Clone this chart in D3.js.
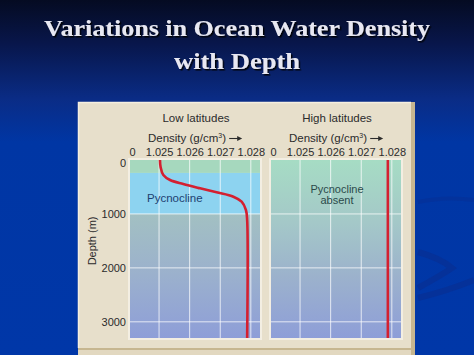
<!DOCTYPE html>
<html>
<head>
<meta charset="utf-8">
<script src="https://cdn.jsdelivr.net/npm/d3@7"></script>
<style>
  html, body { margin: 0; padding: 0; background: #0036a6; }
  svg { display: block; }
</style>
</head>
<body>
<svg id="chart" width="474" height="355"></svg>
<script>
// ---------------- data ----------------
const titleLines = ["Variations in Ocean Water Density", "with Depth"];
const panelTitles = ["Low latitudes", "High latitudes"];
const densityTicks = [1.025, 1.026, 1.027, 1.028];
const depthTicks = [0, 1000, 2000, 3000];

// low latitudes density profile [density, depth]
const lowLatProfile = [
    [1.02503, 0], [1.02505, 130], [1.02514, 278], [1.02536, 371],
    [1.02579, 445], [1.02634, 525], [1.02688, 599], [1.02743, 680],
    [1.02770, 773], [1.02784, 927], [1.02788, 1112], [1.02788, 3300]
];
// high latitudes: no pycnocline, near constant density
const highLatProfile = [[1.02787, 0], [1.02787, 3300]];

// water layers in low latitudes [name, top depth, bottom depth]
const lowLatLayers = [["mixed", 0, 240], ["pycnocline", 240, 1000]];

const svg = d3.select("#chart"),
    width = +svg.attr("width"),
    height = +svg.attr("height");

const defs = svg.append("defs");

// slide background
const bg = defs.append("linearGradient").attr("id", "bg")
    .attr("x1", 0).attr("y1", 0).attr("x2", 0).attr("y2", 1);
bg.append("stop").attr("offset", "0%").attr("stop-color", "#050b22");
bg.append("stop").attr("offset", "12%").attr("stop-color", "#08164a");
bg.append("stop").attr("offset", "28%").attr("stop-color", "#0a2c86");
bg.append("stop").attr("offset", "40%").attr("stop-color", "#0036a4");
bg.append("stop").attr("offset", "100%").attr("stop-color", "#0037a8");

svg.append("rect").attr("width", width).attr("height", height).attr("fill", "url(#bg)");

// faint swoosh on the right
svg.append("path")
    .attr("d", "M418,252 Q440,258 452,268 Q440,276 418,288")
    .attr("fill", "none").attr("stroke", "#0a2b8c").attr("stroke-width", 6).attr("opacity", 0.5);
svg.append("path")
    .attr("d", "M418,298 Q450,290 474,280")
    .attr("fill", "none").attr("stroke", "#0a2b8c").attr("stroke-width", 6).attr("opacity", 0.5);
svg.append("path")
    .attr("d", "M418,202 Q445,196 474,200")
    .attr("fill", "none").attr("stroke", "#0a2b8c").attr("stroke-width", 4).attr("opacity", 0.35);

// title
const shadow = defs.append("filter").attr("id", "shadow")
    .attr("x", "-5%").attr("y", "-20%").attr("width", "110%").attr("height", "140%");
shadow.append("feDropShadow").attr("dx", 1.5).attr("dy", 1.5).attr("stdDeviation", 0.6)
    .attr("flood-color", "#000").attr("flood-opacity", 0.9);

const titleG = svg.append("g").attr("filter", "url(#shadow)");
titleLines.forEach((t, i) => {
    titleG.append("text")
        .attr("x", width / 2)
        .attr("y", 36 + i * 33)
        .attr("text-anchor", "middle")
        .attr("textLength", i === 0 ? 386 : 126)
        .attr("lengthAdjust", "spacingAndGlyphs")
        .style("font-family", "'Liberation Serif', 'Times New Roman', serif")
        .style("font-weight", "bold")
        .style("font-size", "24px")
        .style("fill", "#e8e8f2")
        .text(t);
});

// figure panel
const panel = { left: 78, top: 102, right: 415, bottom: 360 };
svg.append("rect")
    .attr("x", panel.left).attr("y", panel.top)
    .attr("width", panel.right - panel.left).attr("height", panel.bottom - panel.top)
    .attr("fill", "#c6b690");
svg.append("rect")
    .attr("x", panel.left).attr("y", panel.top)
    .attr("width", panel.right - panel.left - 4).attr("height", 246)
    .attr("fill", "#e7dfcb");
svg.append("path")
    .attr("d", `M${panel.left + 0.5},${panel.top + 246} V${panel.top + 0.5} H${panel.right - 4}`)
    .attr("fill", "none").attr("stroke", "#f5efe0").attr("stroke-width", 1.5);
svg.append("rect")
    .attr("x", panel.left).attr("y", panel.top + 248)
    .attr("width", panel.right - panel.left - 4).attr("height", 10)
    .attr("fill", "#e2d8c0");

// plot areas
const plotTop = 160, plotBottom = 338;
const plots = [
    { x0: 130, x1: 260, title: panelTitles[0], profile: lowLatProfile, id: "low" },
    { x0: 271, x1: 401, title: panelTitles[1], profile: highLatProfile, id: "high" }
];

const y = d3.scaleLinear().domain([0, 3300]).range([plotTop, plotBottom]);

// gradients for water
const deep = defs.append("linearGradient").attr("id", "deep")
    .attr("gradientUnits", "userSpaceOnUse")
    .attr("x1", 0).attr("y1", y(1000)).attr("x2", 0).attr("y2", plotBottom);
deep.append("stop").attr("offset", "0%").attr("stop-color", "#a2c0c2");
deep.append("stop").attr("offset", "45%").attr("stop-color", "#9cb2cc");
deep.append("stop").attr("offset", "100%").attr("stop-color", "#8e9ed8");

const full = defs.append("linearGradient").attr("id", "full")
    .attr("gradientUnits", "userSpaceOnUse")
    .attr("x1", 0).attr("y1", plotTop).attr("x2", 0).attr("y2", plotBottom);
full.append("stop").attr("offset", "0%").attr("stop-color", "#a6dcc4");
full.append("stop").attr("offset", "35%").attr("stop-color", "#a4c8c8");
full.append("stop").attr("offset", "65%").attr("stop-color", "#9cb2cc");
full.append("stop").attr("offset", "100%").attr("stop-color", "#8e9ed8");

const layerColor = { mixed: "#a6d8be", pycnocline: "#8dd3f0" };
const textFont = "'Liberation Sans', Arial, Helvetica, sans-serif";

plots.forEach(p => {
    const x = d3.scaleLinear().domain([1.02405, 1.0283]).range([p.x0, p.x1]);
    const g = svg.append("g");

    // frame
    g.append("rect")
        .attr("x", p.x0 - 2).attr("y", plotTop - 2)
        .attr("width", p.x1 - p.x0 + 4).attr("height", plotBottom - plotTop + 4)
        .attr("fill", "#f3eee2");

    // water
    if (p.id === "low") {
        g.append("rect")
            .attr("x", p.x0).attr("y", y(1000))
            .attr("width", p.x1 - p.x0).attr("height", plotBottom - y(1000))
            .attr("fill", "url(#deep)");
        g.selectAll("rect.layer")
            .data(lowLatLayers)
            .join("rect")
            .attr("class", "layer")
            .attr("x", p.x0)
            .attr("y", d => y(d[1]))
            .attr("width", p.x1 - p.x0)
            .attr("height", d => y(d[2]) - y(d[1]))
            .attr("fill", d => layerColor[d[0]]);
    } else {
        g.append("rect")
            .attr("x", p.x0).attr("y", plotTop)
            .attr("width", p.x1 - p.x0).attr("height", plotBottom - plotTop)
            .attr("fill", "url(#full)");
    }

    // grid
    g.selectAll("line.vgrid")
        .data(densityTicks)
        .join("line")
        .attr("x1", d => x(d)).attr("x2", d => x(d))
        .attr("y1", plotTop).attr("y2", plotBottom)
        .attr("stroke", "#ffffff").attr("stroke-opacity", 0.75).attr("stroke-width", 1);
    g.selectAll("line.hgrid")
        .data(depthTicks.slice(1))
        .join("line")
        .attr("x1", p.x0).attr("x2", p.x1)
        .attr("y1", d => y(d)).attr("y2", d => y(d))
        .attr("stroke", "#ffffff").attr("stroke-opacity", 0.75).attr("stroke-width", 1);

    // density curve
    const line = d3.line()
        .x(d => x(d[0]))
        .y(d => y(d[1]))
        .curve(d3.curveCatmullRom.alpha(0.5));
    g.append("path")
        .datum(p.profile)
        .attr("d", line)
        .attr("fill", "none")
        .attr("stroke", "#d42030")
        .attr("stroke-width", 2.6);

    // top axis
    const xAxis = g.append("g")
        .attr("transform", `translate(0,${plotTop - 4})`)
        .call(d3.axisTop(x)
            .tickValues([1.02405].concat(densityTicks))
            .tickSize(0)
            .tickPadding(0)
            .tickFormat(d => d < 1.025 ? "0" : d3.format(".3f")(d)));
    xAxis.select(".domain").remove();
    xAxis.selectAll("text")
        .style("font-family", textFont)
        .style("font-size", "11px")
        .style("fill", "#2b2b2b");
    xAxis.selectAll(".tick").filter(d => d < 1.025).select("text").attr("dx", 2);

    const cx = (p.x0 + p.x1) / 2 + 1;
    g.append("text")
        .attr("x", cx).attr("y", 122)
        .attr("text-anchor", "middle")
        .style("font-family", textFont).style("font-size", "11.5px").style("fill", "#2b2b2b")
        .text(p.title);

    // density label with arrow
    const lab = g.append("text")
        .attr("x", cx - 9).attr("y", 142)
        .attr("text-anchor", "middle")
        .style("font-family", textFont).style("font-size", "11.5px").style("fill", "#2b2b2b")
        .html("Density (g/cm<tspan dy='-4' font-size='7px'>3</tspan><tspan dy='4'>)</tspan>");
    const bb = lab.node().getBBox();
    const ax0 = bb.x + bb.width + 3, ax1 = ax0 + 13, ay = 138.5;
    g.append("line")
        .attr("x1", ax0).attr("x2", ax1 - 3).attr("y1", ay).attr("y2", ay)
        .attr("stroke", "#2b2b2b").attr("stroke-width", 1.1);
    g.append("path")
        .attr("d", `M${ax1},${ay} L${ax1 - 5},${ay - 2.5} L${ax1 - 5},${ay + 2.5} Z`)
        .attr("fill", "#2b2b2b");
});

// depth axis
const yAxis = svg.append("g")
    .attr("transform", "translate(126,0)")
    .call(d3.axisLeft(y).tickValues(depthTicks).tickSize(0).tickPadding(0).tickFormat(d3.format("d")));
yAxis.select(".domain").remove();
yAxis.selectAll("text")
    .style("font-family", textFont)
    .style("font-size", "11px")
    .style("fill", "#2b2b2b");
yAxis.selectAll(".tick").filter(d => d === 0).select("text").attr("dy", "0.55em");

svg.append("text")
    .attr("transform", `translate(96,${(y(1000) + y(2000)) / 2}) rotate(-90)`)
    .attr("text-anchor", "middle")
    .style("font-family", textFont).style("font-size", "11px").style("fill", "#2b2b2b")
    .text("Depth (m)");

// layer labels
svg.append("text")
    .attr("x", 147).attr("y", 202)
    .style("font-family", textFont).style("font-size", "11.5px").style("fill", "#1e3f70")
    .text("Pycnocline");
["Pycnocline", "absent"].forEach((t, i) => {
    svg.append("text")
        .attr("x", 337).attr("y", 193 + i * 11)
        .attr("text-anchor", "middle")
        .style("font-family", textFont).style("font-size", "11px").style("fill", "#2c4a4a")
        .text(t);
});
</script>
</body>
</html>
